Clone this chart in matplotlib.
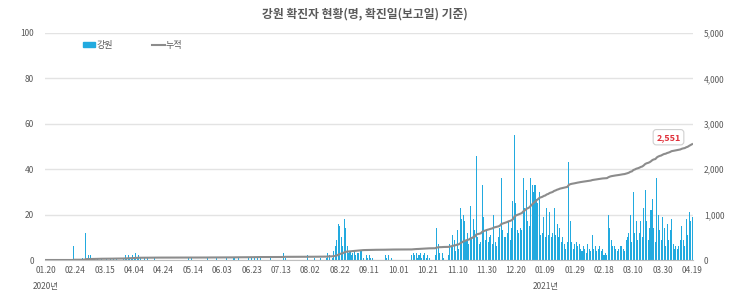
import numpy as np
import matplotlib
matplotlib.use("Agg")
import matplotlib.pyplot as plt
from matplotlib.patches import Patch
from matplotlib.lines import Line2D

plt.rcParams['font.family'] = ['Noto Sans CJK KR', 'DejaVu Sans']

title = "강원 확진자 현황(명, 확진일(보고일) 기준)"

# daily confirmed cases, one row = 20 report days (category axis)
daily_cases = [
    0, 0, 0, 0, 0, 0, 0, 0, 0, 0, 0, 0, 0, 0, 0, 0, 0, 0, 0, 6,
    0, 0, 0, 0, 0, 1, 0, 12, 1, 2, 2, 1, 0, 1, 0, 1, 0, 0, 1, 0,
    0, 1, 0, 0, 1, 0, 1, 0, 1, 0, 0, 0, 0, 1, 2, 1, 2, 1, 1, 2,
    1, 3, 1, 2, 1, 0, 0, 1, 0, 1, 0, 0, 0, 0, 1, 0, 0, 0, 0, 0,
    0, 0, 0, 0, 0, 0, 0, 0, 0, 0, 0, 0, 0, 0, 0, 0, 0, 1, 0, 1,
    0, 0, 0, 0, 0, 0, 0, 0, 0, 0, 1, 0, 0, 0, 0, 0, 1, 0, 0, 0,
    0, 0, 0, 1, 0, 0, 0, 0, 1, 0, 0, 1, 0, 0, 0, 0, 0, 0, 1, 0,
    1, 0, 1, 0, 1, 0, 1, 0, 0, 0, 0, 0, 0, 1, 0, 0, 0, 0, 0, 0,
    0, 0, 3, 1, 0, 0, 0, 0, 0, 0, 0, 0, 0, 0, 0, 0, 0, 0, 2, 0,
    0, 0, 0, 1, 0, 0, 0, 1, 0, 0, 0, 1, 3, 2, 0, 1, 4, 6, 9, 16,
    15, 10, 6, 18, 14, 6, 3, 4, 2, 3, 4, 2, 3, 3, 4, 4, 1, 0, 2, 1,
    2, 1, 1, 0, 0, 0, 0, 0, 0, 0, 0, 2, 1, 2, 0, 1, 0, 0, 0, 0,
    0, 0, 0, 0, 0, 0, 0, 0, 0, 2, 3, 2, 3, 1, 2, 3, 1, 2, 3, 1,
    2, 1, 0, 0, 0, 2, 14, 7, 3, 0, 3, 1, 0, 0, 2, 7, 6, 11, 9, 4,
    13, 5, 23, 18, 20, 17, 9, 12, 7, 24, 10, 18, 13, 46, 10, 7, 8, 33, 19, 9,
    13, 8, 10, 11, 7, 20, 8, 6, 10, 14, 36, 13, 10, 10, 12, 17, 9, 14, 26, 55,
    25, 13, 12, 14, 13, 36, 23, 31, 17, 15, 36, 33, 30, 33, 27, 25, 30, 11, 12, 19,
    10, 23, 11, 21, 10, 12, 23, 11, 16, 10, 14, 8, 10, 7, 5, 8, 43, 17, 8, 5,
    7, 8, 6, 7, 5, 4, 6, 5, 3, 7, 5, 4, 11, 5, 6, 4, 5, 6, 4, 5,
    2, 3, 2, 20, 14, 9, 6, 6, 5, 4, 5, 6, 6, 5, 4, 9, 10, 12, 20, 8,
    30, 12, 17, 9, 12, 17, 10, 23, 31, 17, 9, 14, 22, 27, 14, 8, 36, 20, 13, 9,
    19, 14, 6, 16, 9, 13, 18, 7, 5, 6, 5, 6, 9, 15, 9, 6, 18, 11, 21, 17, 19,
]

tick_labels = ["01.20", "02.24", "03.15", "04.04", "04.24", "05.14", "06.03",
               "06.23", "07.13", "08.02", "08.22", "09.11", "10.01", "10.21",
               "11.10", "11.30", "12.20", "01.09", "01.29", "02.18", "03.10",
               "03.30", "04.19"]
year_labels = {"2020년": "01.20", "2021년": "01.09"}

cumulative = np.cumsum(daily_cases)
x = np.arange(len(daily_cases))
tick_pos = x[::20]

text_col = "#595959"
bar_col = "#22AADF"
line_col = "#8C8C8C"
grid_col = "#E3E3E3"

fig = plt.figure(figsize=(7.3, 2.96), dpi=100)
ax = fig.add_axes([0.0621, 0.1216, 0.887, 0.767])
ax2 = ax.twinx()

ax.bar(x, daily_cases, width=0.7, color=bar_col, linewidth=0, zorder=2)
ax2.plot(x, cumulative, color=line_col, linewidth=1.5, zorder=3)

ax.set_xlim(-0.5, len(daily_cases) - 0.5)
ax.set_ylim(0, 100)
ax2.set_ylim(0, 5000)
ax.set_yticks(range(0, 101, 20))
ax2.set_yticks(range(0, 5001, 1000))
ax2.set_yticklabels([f"{v:,}" for v in range(0, 5001, 1000)])
ax.yaxis.grid(True, color=grid_col, linewidth=1, zorder=0)
ax.set_axisbelow(True)

ax.set_xticks(tick_pos)
ax.set_xticklabels(tick_labels)

for a in (ax, ax2):
    for s in a.spines.values():
        s.set_visible(False)
    a.tick_params(length=0, labelsize=6, labelcolor=text_col)
ax.tick_params(axis='y', pad=8)
ax2.tick_params(axis='y', pad=8)
ax.tick_params(axis='x', pad=4)
ax.spines['bottom'].set_visible(True)
ax.spines['bottom'].set_color("#BFBFBF")

ax2.set_zorder(ax.get_zorder() + 1)
ax2.patch.set_visible(False)

for ylab, at in year_labels.items():
    ax.annotate(ylab, xy=(tick_labels.index(at) * 20, 0), xycoords=('data', 'axes fraction'),
                xytext=(0, -19), textcoords='offset points', ha='center', va='center',
                fontsize=6, color=text_col)

ax2.annotate(f"{cumulative[-1]:,}", xy=(x[-1], cumulative[-1]), xytext=(-17, 5),
             textcoords='offset points', ha='center', va='center', fontsize=6.5,
             fontweight='bold', color="#E0303A",
             bbox=dict(boxstyle="round,pad=0.35", fc="white", ec="#D0D0D0", lw=0.8))

fig.text(0.5, 0.953, title, ha='center', va='center', fontsize=8.5,
         fontweight='bold', color=text_col)

handles = [Patch(color=bar_col), Line2D([0], [0], color=line_col, lw=1.5)]
ax.legend(handles, ["강원", "누적"], loc='upper left', bbox_to_anchor=(0.045, 1.0),
          ncol=2, frameon=False, fontsize=6.5, labelcolor=text_col,
          handlelength=1.4, handleheight=0.5, handletextpad=0.1, columnspacing=4.4)

fig.savefig("out.png", dpi=100)
